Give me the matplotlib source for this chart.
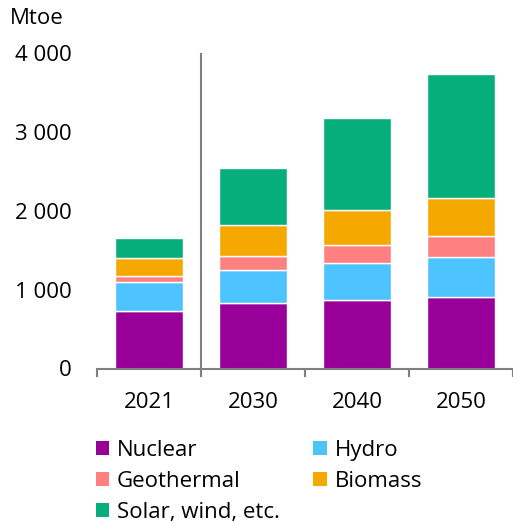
import matplotlib.pyplot as plt
from matplotlib.patches import Patch
from matplotlib.ticker import FuncFormatter

years = ["2021", "2030", "2040", "2050"]
nuclear = [725, 834, 872, 906]
hydro = [368, 414, 461, 507]
geothermal = [83, 182, 232, 262]
biomass = [228, 385, 448, 490]
solar_wind = [246, 722, 1158, 1568]

series = [
    ("Nuclear", nuclear, "#990099"),
    ("Hydro", hydro, "#4dc3ff"),
    ("Geothermal", geothermal, "#ff8080"),
    ("Biomass", biomass, "#f5a800"),
    ("Solar, wind, etc.", solar_wind, "#05ae7a"),
]

plt.rcParams['font.family'] = ['Open Sans', 'DejaVu Sans']
grey = "#7f7f7f"
fs = 16

fig = plt.figure(figsize=(5.13, 5.22), dpi=100)
ax = fig.add_axes([97 / 513, 1 - 368.5 / 522, 416 / 513, (368.5 - 53) / 522])

x = range(len(years))
bottom = [0] * len(years)
for name, vals, col in series:
    ax.bar(x, vals, width=0.65, bottom=bottom, color=col,
           edgecolor="white", linewidth=1.0, label=name)
    bottom = [b + v for b, v in zip(bottom, vals)]

ax.set_xlim(-0.5, 3.5)
ax.set_ylim(0, 4000)
ax.set_yticks([0, 1000, 2000, 3000, 4000])
ax.yaxis.set_major_formatter(FuncFormatter(lambda v, p: f"{int(v):,}".replace(",", " ")))
ax.tick_params(axis="y", length=0, pad=18, labelsize=fs)

ax.set_xticks(list(x))
ax.set_xticklabels(years)
ax.tick_params(axis="x", which="major", length=0, pad=17, labelsize=fs)
ax.set_xticks([-0.5, 0.5, 1.5, 2.5, 3.5], minor=True)
ax.tick_params(axis="x", which="minor", length=6, width=1.5, color=grey, direction="out")

for s in ["top", "right", "left"]:
    ax.spines[s].set_visible(False)
ax.spines["bottom"].set_color(grey)
ax.spines["bottom"].set_linewidth(1.5)

# divider between history and projections
ax.vlines(0.5, 0, 4000, color=grey, linewidth=1.5)

fig.text(10 / 513, 1 - 18 / 522, "Mtoe", fontsize=fs, va="center", ha="left")

order = [0, 2, 4, 1, 3]
handles = [Patch(facecolor=series[i][2], label=series[i][0]) for i in order]
fig.legend(handles=handles, ncol=2, loc="upper left",
           bbox_to_anchor=(96 / 513, 1 - 440 / 522), frameon=False,
           fontsize=fs, handlelength=0.6, handleheight=0.6,
           handletextpad=0.35, columnspacing=1.5, labelspacing=0.45,
           borderpad=0, borderaxespad=0)

fig.savefig("out.png", dpi=100)
